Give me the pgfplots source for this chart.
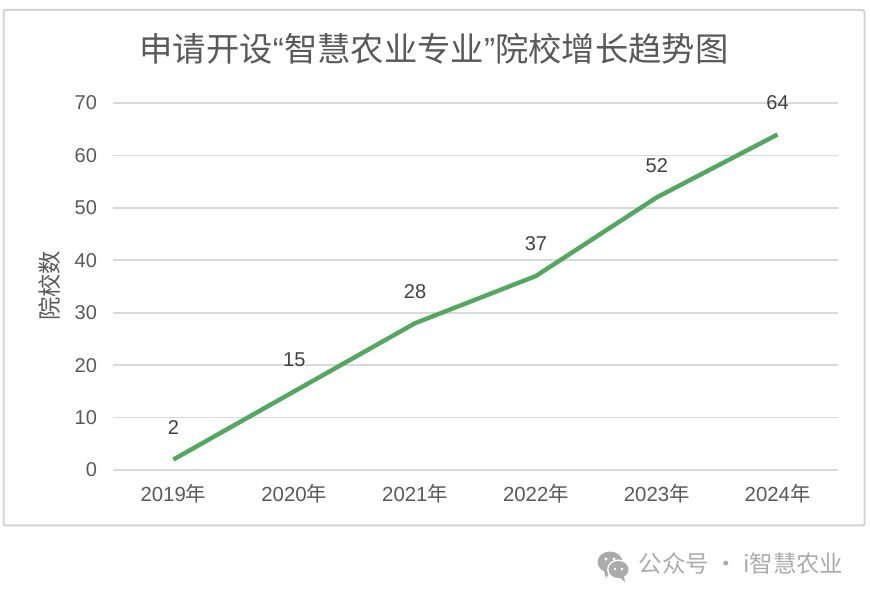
\documentclass[border=0pt]{standalone}
\usepackage{fontspec}
\setmainfont{Liberation Sans}
\newfontfamily\cjk{Noto Sans CJK SC}
\usepackage{pgfplots}
\pgfplotsset{compat=1.18}
\definecolor{gridc}{HTML}{D9D9D9}
\definecolor{framec}{HTML}{D4D4D4}
\definecolor{textc}{HTML}{595959}
\definecolor{labc}{HTML}{404040}
\definecolor{linec}{HTML}{52A85F}
\definecolor{wmc}{HTML}{ABABAB}
\begin{document}
\begin{tikzpicture}[x=0.75pt,y=0.75pt]
\path (0,0) rectangle (870,598);
\draw[framec,line width=1.5pt,rounded corners=1.5pt] (3.5,72.5) rectangle (864.5,588);
\begin{axis}[
  at={(84.75pt,96pt)}, anchor=south west,
  scale only axis, width=543.75pt, height=275.25pt,
  xmin=-0.5, xmax=5.5, ymin=0, ymax=70,
  xtick={0,1,2,3,4,5},
  xticklabels={2019{\cjk 年},2020{\cjk 年},2021{\cjk 年},2022{\cjk 年},2023{\cjk 年},2024{\cjk 年}},
  ytick={0,10,20,30,40,50,60,70},
  major tick length=0pt,
  axis line style={draw=none},
  ymajorgrids, grid style={gridc,line width=1.2pt},
  /pgf/number format/assume math mode=true,
  tick label style={textc},
  xticklabel style={font=\fontsize{15.3}{17}\selectfont, yshift=-7pt},
  yticklabel style={font=\fontsize{15}{17}\selectfont, xshift=-8.5pt},
  clip=false,
]
\addplot[linec,line width=3.3pt,line join=round,
  nodes near coords,
  every node near coord/.append style={labc,font=\fontsize{15}{17}\selectfont,anchor=center,yshift=24pt}]
  coordinates {(0,2) (1,15) (2,28) (3,37) (4,52) (5,64)};
\end{axis}
\node[textc,font=\fontsize{25}{28}\selectfont] at (434,549) {{\cjk 申请开设}“{\cjk 智慧农业专业}”{\cjk 院校增长趋势图}};
\node[textc,font=\cjk\fontsize{17.5}{20}\selectfont,rotate=90] at (50,312) {院校数};
\node[wmc,font=\cjk\fontsize{17.6}{20}\selectfont,anchor=west] at (634,34) {公众号 · i智慧农业};
\fill[wmc] (610,36) ellipse (12.5 and 10.5);
\fill[wmc] (604,27) -- (606,20) -- (611,27) -- cycle;
\fill[white] (618.5,28.5) ellipse (11.5 and 10);
\fill[wmc] (618.5,28.5) ellipse (10 and 8.5);
\fill[wmc] (624,22) -- (625,16) -- (619,21) -- cycle;
\fill[white] (606,39) circle (1.6) (614,39) circle (1.6) (615,29) circle (1.4) (622,29) circle (1.4);
\end{tikzpicture}
\end{document}
